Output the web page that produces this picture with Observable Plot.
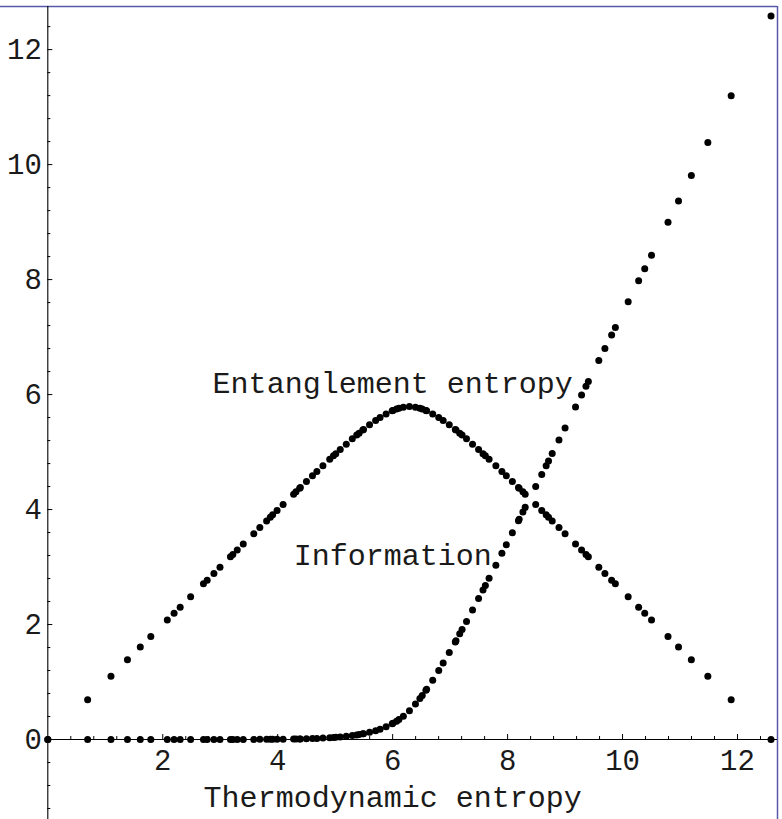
<!DOCTYPE html>
<html>
<head>
<meta charset="utf-8">
<script src="https://cdn.jsdelivr.net/npm/d3@7"></script>
<script src="https://cdn.jsdelivr.net/npm/@observablehq/plot@0.6"></script>
<style>
  html, body { margin: 0; padding: 0; background: #fff; }
  #chart svg { display: block; }
</style>
</head>
<body>
<div id="chart"></div>
<script>
// Thermodynamic entropy (x) of each sampled point
const thermoEntropy = [
  0, 0.693, 1.099, 1.386, 1.609, 1.792, 2.079, 2.197, 2.303, 2.485,
  2.708, 2.773, 2.890, 2.996, 3.178, 3.219, 3.296, 3.401, 3.584, 3.689,
  3.807, 3.871, 3.912, 3.989, 4.094, 4.277, 4.318, 4.382, 4.394, 4.500,
  4.605, 4.682, 4.787, 4.905, 4.970, 5.011, 5.088, 5.193, 5.298, 5.375,
  5.416, 5.481, 5.493, 5.598, 5.704, 5.781, 5.886, 5.992, 6.004, 6.068,
  6.109, 6.186, 6.292,
  6.397, 6.474, 6.515, 6.579, 6.591, 6.697, 6.802, 6.879, 6.985, 7.090,
  7.102, 7.167, 7.208, 7.285, 7.390, 7.495, 7.572, 7.613, 7.678, 7.796,
  7.901, 7.978, 8.083, 8.189, 8.201, 8.266, 8.306, 8.489, 8.594, 8.671,
  8.712, 8.776, 8.894, 9.000, 9.182, 9.287, 9.364, 9.405, 9.587, 9.693,
  9.810, 9.875, 10.098, 10.280, 10.386, 10.504, 10.791, 10.974, 11.197, 11.484,
  11.890, 12.583
];
// Entanglement entropy series
const entanglementEntropy = [
  0, 0.693, 1.099, 1.386, 1.609, 1.792, 2.079, 2.197, 2.302, 2.485,
  2.708, 2.772, 2.890, 2.995, 3.177, 3.218, 3.295, 3.400, 3.581, 3.686,
  3.803, 3.867, 3.908, 3.984, 4.088, 4.268, 4.308, 4.371, 4.383, 4.486,
  4.588, 4.662, 4.763, 4.874, 4.934, 4.972, 5.043, 5.137, 5.230, 5.295,
  5.329, 5.382, 5.392, 5.473, 5.550, 5.601, 5.664, 5.717, 5.723, 5.748,
  5.762, 5.781, 5.792,
  5.781, 5.762, 5.748, 5.723, 5.717, 5.664, 5.601, 5.550, 5.473, 5.392,
  5.382, 5.329, 5.295, 5.230, 5.137, 5.043, 4.972, 4.934, 4.874, 4.763,
  4.662, 4.588, 4.486, 4.383, 4.371, 4.308, 4.268, 4.088, 3.984, 3.908,
  3.867, 3.803, 3.686, 3.581, 3.400, 3.295, 3.218, 3.177, 2.995, 2.890,
  2.772, 2.708, 2.485, 2.302, 2.197, 2.079, 1.792, 1.609, 1.386, 1.099,
  0.693, 0
];
// Information series
const information = [
  0, 0, 0, 0, 0, 0, 0, 0, 0, 0,
  0, 0, 0.001, 0.001, 0.001, 0.001, 0.001, 0.002, 0.002, 0.003,
  0.004, 0.004, 0.004, 0.005, 0.006, 0.009, 0.010, 0.011, 0.011, 0.014,
  0.017, 0.020, 0.025, 0.031, 0.036, 0.039, 0.045, 0.056, 0.069, 0.080,
  0.087, 0.099, 0.101, 0.125, 0.154, 0.180, 0.222, 0.274, 0.281, 0.320,
  0.347, 0.405, 0.500,
  0.616, 0.712, 0.767, 0.856, 0.874, 1.033, 1.201, 1.329, 1.512, 1.698,
  1.720, 1.838, 1.913, 2.055, 2.253, 2.452, 2.600, 2.679, 2.804, 3.033,
  3.239, 3.390, 3.597, 3.806, 3.830, 3.958, 4.038, 4.401, 4.610, 4.763,
  4.845, 4.973, 5.208, 5.419, 5.782, 5.992, 6.146, 6.228, 6.592, 6.803,
  7.038, 7.167, 7.613, 7.978, 8.189, 8.425, 8.999, 9.365, 9.811, 10.385,
  11.197, 12.583
];

const xTickValues = [2, 4, 6, 8, 10, 12];
const yTickValues = [0, 2, 4, 6, 8, 10, 12];
const minorStep = 0.4;

const annotationTexts = ["Entanglement entropy", "Information", "Thermodynamic entropy"];
const annotationX = [6, 6, 6];
const annotationY = [6.2, 3.2, -1.0];

const xDomain = [-0.823, 12.696];
const yDomain = [-1.391, 12.75];

// ---- build tables ----
const points = [];
thermoEntropy.forEach((x, i) => {
  points.push({x, y: entanglementEntropy[i], series: "Entanglement entropy"});
  points.push({x, y: information[i], series: "Information"});
});
const annotations = annotationTexts.map((t, i) => ({text: t, x: annotationX[i], y: annotationY[i]}));

const isMajor = v => Math.abs(v / 2 - Math.round(v / 2)) < 1e-6;
const xMinor = d3.range(1, Math.floor(xDomain[1] / minorStep) + 1).map(k => +(k * minorStep).toFixed(2)).filter(v => !isMajor(v));
const yMinor = d3.range(Math.ceil(yDomain[0] / minorStep), Math.floor(yDomain[1] / minorStep) + 1)
  .map(k => +(k * minorStep).toFixed(2)).filter(v => !isMajor(v));
const yMajor = yTickValues.filter(v => v !== 0);

const font = "'Courier New', 'Nimbus Mono PS', 'Nimbus Mono L', FreeMono, Courier, 'Liberation Mono', monospace";
const ink = "#1a1a1a";
const frameBlue = "#5858ad";

const chart = Plot.plot({
  width: 782,
  height: 819,
  marginTop: 6,
  marginRight: 5,
  marginBottom: 0,
  marginLeft: 0,
  x: {domain: xDomain, axis: null},
  y: {domain: yDomain, axis: null},
  style: {fontFamily: font, background: "#fff", overflow: "visible"},
  marks: [
    // frame lines (top and right)
    Plot.ruleY([yDomain[1]], {stroke: frameBlue, strokeWidth: 1.5}),
    Plot.ruleX([xDomain[1]], {stroke: frameBlue, strokeWidth: 1.5}),
    // axes through the origin
    Plot.ruleX([0], {stroke: "#000", strokeWidth: 1.1}),
    Plot.ruleY([0], {x1: 0, x2: xDomain[1], stroke: "#000", strokeWidth: 1.1}),
    // ticks
    Plot.ruleX(xMinor, {y1: 0, y2: 0, insetTop: -3, stroke: "#000", strokeWidth: 1}),
    Plot.ruleX(xTickValues, {y1: 0, y2: 0, insetTop: -5, stroke: "#000", strokeWidth: 1}),
    Plot.ruleY(yMinor, {x1: 0, x2: 0, insetRight: -3, stroke: "#000", strokeWidth: 1}),
    Plot.ruleY(yMajor, {x1: 0, x2: 0, insetRight: -5, stroke: "#000", strokeWidth: 1}),
    // tick labels
    Plot.text(xTickValues, {x: d => d, y: 0, text: d => String(d), dy: 21, lineAnchor: "middle",
      fontSize: 29, fill: ink, fontFamily: font}),
    Plot.text(yTickValues, {x: 0, y: d => d, text: d => String(d), textAnchor: "end", dx: -6,
      lineAnchor: "middle", fontSize: 29, fill: ink, fontFamily: font}),
    // data points
    Plot.dot(points, {x: "x", y: "y", r: 3.5, fill: "#000", stroke: "none"}),
    // annotations
    Plot.text(annotations, {x: "x", y: "y", text: "text", lineAnchor: "middle", textAnchor: "middle",
      fontSize: 30, fill: ink, fontFamily: font})
  ]
});
document.getElementById("chart").appendChild(chart);
</script>
</body>
</html>
